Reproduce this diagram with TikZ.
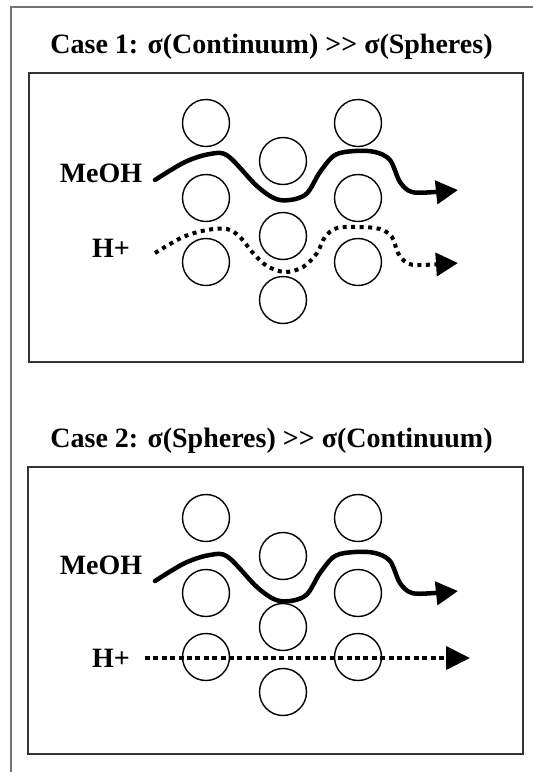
\documentclass[tikz,border=0pt]{standalone}
\usepackage{fontspec}
\setmainfont{Liberation Serif}
\usetikzlibrary{arrows.meta}
\begin{document}
\begin{tikzpicture}[x=1pt,y=-1pt,
  ball/.style={circle,draw=black,line width=1.4pt,minimum size=47pt,inner sep=0pt},
  panel/.style={draw=black!80,line width=2pt,inner sep=0pt},
  lbl/.style={font=\fontsize{28}{30}\selectfont\bfseries,anchor=base,inner sep=0pt},
  meoh/.style={line width=4.5pt,line cap=round,line join=round,-{Triangle[length=22pt,width=23pt]}},
  proton/.style={line width=4pt,dash pattern=on 4pt off 4.5pt,-{Triangle[length=22pt,width=23pt]}},
  protonb/.style={line width=4pt,dash pattern=on 5pt off 3.4pt,-{Triangle[length=24pt,width=23pt]}}]
\useasboundingbox (0,0) rectangle (533,772);
\fill[white] (0,0) rectangle (533,772);
% outer page frame
\draw[black!55,line width=1.6pt] (11,772) -- (11,7) -- (533,7);

% ---------- Case 1 ----------
\node[lbl] (t1) at (271.5,53) {Case 1: σ(Continuum) >{}> σ(Spheres)};
\node[panel,minimum width=494pt,minimum height=289pt] (box1) at (276,217.5) {};
\node[ball] (a1) at (206,123) {};
\node[ball] (a2) at (358,123) {};
\node[ball] (a3) at (283,161) {};
\node[ball] (a4) at (206,198) {};
\node[ball] (a5) at (358,198) {};
\node[ball] (a6) at (283,236) {};
\node[ball] (a7) at (206,262) {};
\node[ball] (a8) at (358,262) {};
\node[ball] (a9) at (283,300) {};
\node[lbl] (m1) at (101,182) {MeOH};
\node[lbl] (h1) at (111,257) {H+};
\coordinate (m1s) at (155,180);
\coordinate (m1e) at (458,190);
\coordinate (h1s) at (155,253);
\coordinate (h1e) at (458,263);
\draw[meoh] plot[smooth,tension=0.55] coordinates {(m1s) (185,162) (210,154) (228,156) (258,187) (280,200) (305,195) (320,172) (335,155) (355,151) (375,152) (390,160) (400,182) (412,192) (435,192) (m1e)};
\draw[proton] plot[smooth,tension=0.55] coordinates {(h1s) (183,237) (207,230) (227,229) (240,237) (253,253) (267,266) (285,272) (303,267) (317,253) (325,237) (337,228) (360,227) (380,229) (392,237) (398,253) (407,263) (420,265) (h1e)};

% ---------- Case 2 ----------
\node[lbl] (t2) at (271.5,447) {Case 2: σ(Spheres) >{}> σ(Continuum)};
\node[panel,minimum width=495pt,minimum height=287pt] (box2) at (275.5,610.5) {};
\node[ball] (b1) at (206,518) {};
\node[ball] (b2) at (358,518) {};
\node[ball] (b3) at (283,556) {};
\node[ball] (b4) at (206,593) {};
\node[ball] (b5) at (358,593) {};
\node[ball] (b6) at (283,627) {};
\node[ball] (b7) at (206,657) {};
\node[ball] (b8) at (358,657) {};
\node[ball] (b9) at (283,692) {};
\node[lbl] (m2) at (101,574) {MeOH};
\node[lbl] (h2) at (111,667) {H+};
\coordinate (m2s) at (155,581);
\coordinate (m2e) at (458,591);
\coordinate (h2s) at (145,658);
\coordinate (h2e) at (470,658);
\draw[meoh] plot[smooth,tension=0.55] coordinates {(m2s) (185,563) (210,555) (228,557) (258,588) (280,601) (305,596) (320,573) (335,556) (355,552) (375,553) (390,561) (400,583) (412,593) (435,593) (m2e)};
\draw[protonb] (h2s) -- (h2e);
\end{tikzpicture}
\end{document}
